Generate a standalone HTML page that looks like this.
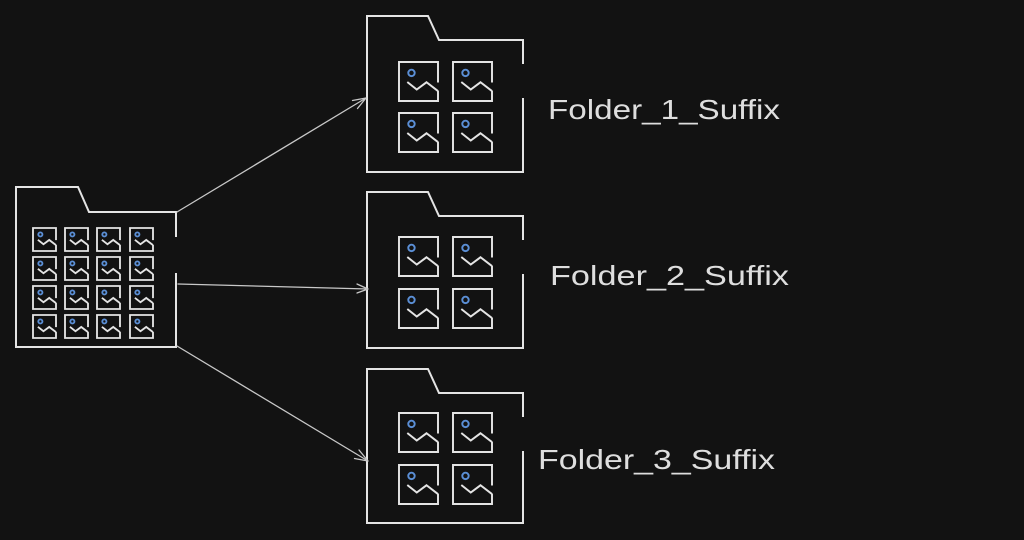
<!DOCTYPE html>
<html>
<head>
<meta charset="utf-8">
<style>
html,body{margin:0;padding:0;background:#121212;}
svg{display:block;}
</style>
</head>
<body>
<svg width="1024" height="540" viewBox="0 0 1024 540" xmlns="http://www.w3.org/2000/svg">
<defs>
  <g id="img">
    <path d="M40,21 L40,0 L0,0 L0,40 L40,40 L40,29.5" fill="none" stroke="#e4e4e4" stroke-width="2"/>
    <path d="M8.5,20.5 L18.2,28.2 L28.2,20.8 L40,29.8" fill="none" stroke="#e4e4e4" stroke-width="2" stroke-linejoin="miter"/>
    <circle cx="12.8" cy="11.2" r="3.3" fill="none" stroke="#5b8fd6" stroke-width="2"/>
  </g>
  <g id="imgs">
    <path d="M40,21 L40,0 L0,0 L0,40 L40,40 L40,29.5" fill="none" stroke="#e4e4e4" stroke-width="3.2"/>
    <path d="M8.5,20.5 L18.2,28.2 L28.2,20.8 L40,29.8" fill="none" stroke="#e4e4e4" stroke-width="3.2"/>
    <circle cx="12.8" cy="11.2" r="3.6" fill="none" stroke="#5b8fd6" stroke-width="3.2"/>
  </g>
</defs>

<rect width="1024" height="540" fill="#121212"/>

<!-- big source folder -->
<path d="M176,237 L176,212 L89,212 L78,187 L16,187 L16,347 L176,347 L176,273" fill="none" stroke="#e4e4e4" stroke-width="2"/>
<g>
  <use href="#imgs" transform="translate(33,228) scale(0.575)"/>
  <use href="#imgs" transform="translate(65,228) scale(0.575)"/>
  <use href="#imgs" transform="translate(97,228) scale(0.575)"/>
  <use href="#imgs" transform="translate(130,228) scale(0.575)"/>
  <use href="#imgs" transform="translate(33,257) scale(0.575)"/>
  <use href="#imgs" transform="translate(65,257) scale(0.575)"/>
  <use href="#imgs" transform="translate(97,257) scale(0.575)"/>
  <use href="#imgs" transform="translate(130,257) scale(0.575)"/>
  <use href="#imgs" transform="translate(33,286) scale(0.575)"/>
  <use href="#imgs" transform="translate(65,286) scale(0.575)"/>
  <use href="#imgs" transform="translate(97,286) scale(0.575)"/>
  <use href="#imgs" transform="translate(130,286) scale(0.575)"/>
  <use href="#imgs" transform="translate(33,315) scale(0.575)"/>
  <use href="#imgs" transform="translate(65,315) scale(0.575)"/>
  <use href="#imgs" transform="translate(97,315) scale(0.575)"/>
  <use href="#imgs" transform="translate(130,315) scale(0.575)"/>
</g>

<!-- folder 1 -->
<path d="M523,64 L523,40 L439,40 L428,16 L367,16 L367,172 L523,172 L523,98" fill="none" stroke="#e4e4e4" stroke-width="2"/>
<use href="#img" transform="translate(399,62) scale(0.975)"/>
<use href="#img" transform="translate(453,62) scale(0.975)"/>
<use href="#img" transform="translate(399,113) scale(0.975)"/>
<use href="#img" transform="translate(453,113) scale(0.975)"/>

<!-- folder 2 -->
<path d="M523,240 L523,216 L439,216 L428,192 L367,192 L367,348 L523,348 L523,274" fill="none" stroke="#e4e4e4" stroke-width="2"/>
<use href="#img" transform="translate(399,237) scale(0.975)"/>
<use href="#img" transform="translate(453,237) scale(0.975)"/>
<use href="#img" transform="translate(399,289) scale(0.975)"/>
<use href="#img" transform="translate(453,289) scale(0.975)"/>

<!-- folder 3 -->
<path d="M523,417 L523,393 L439,393 L428,369 L367,369 L367,523 L523,523 L523,451" fill="none" stroke="#e4e4e4" stroke-width="2"/>
<use href="#img" transform="translate(399,413) scale(0.975)"/>
<use href="#img" transform="translate(453,413) scale(0.975)"/>
<use href="#img" transform="translate(399,465) scale(0.975)"/>
<use href="#img" transform="translate(453,465) scale(0.975)"/>

<!-- arrows -->
<g fill="none" stroke="#c8c8c8" stroke-width="1.3" stroke-linecap="round">
  <path d="M177,212 L366,98"/>
  <path d="M366,98 L352.5,100.5 M366,98 L357.5,108.5"/>
  <path d="M178,284 L368,289"/>
  <path d="M368,289 L357,284 M368,289 L357,293"/>
  <path d="M177,346 L368,461"/>
  <path d="M368,461 L359,450 M368,461 L354.5,458.5"/>
</g>

<!-- labels -->
<g font-family="'Liberation Sans', 'DejaVu Sans', sans-serif" font-size="28" fill="#dedede">
  <text x="548" y="119" textLength="232" lengthAdjust="spacingAndGlyphs">Folder_1_Suffix</text>
  <text x="550" y="285" textLength="239" lengthAdjust="spacingAndGlyphs">Folder_2_Suffix</text>
  <text x="538" y="469" textLength="237" lengthAdjust="spacingAndGlyphs">Folder_3_Suffix</text>
</g>
</svg>
</body>
</html>
